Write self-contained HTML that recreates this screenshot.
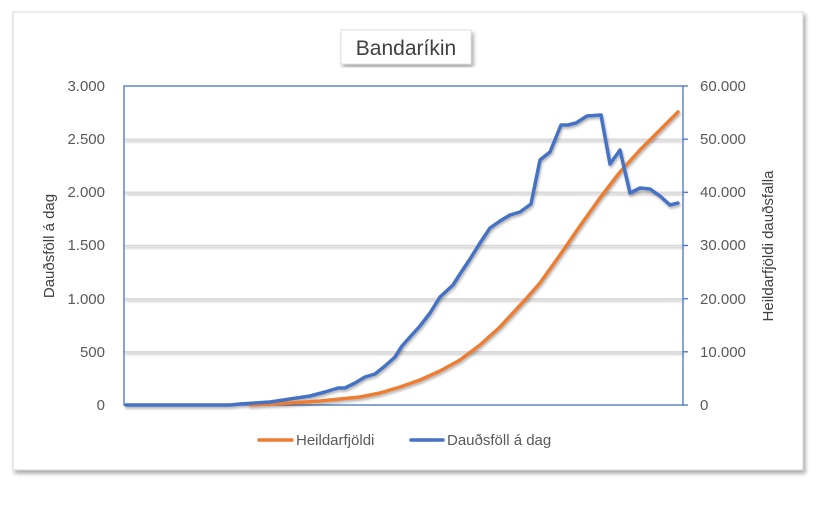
<!DOCTYPE html>
<html><head><meta charset="utf-8"><style>
body{margin:0;background:#fff;width:840px;height:502px;overflow:hidden;font-family:"Liberation Sans",sans-serif}
</style></head><body>
<svg width="840" height="502" xmlns="http://www.w3.org/2000/svg" font-family="Liberation Sans, sans-serif">
<defs>
<filter id="sh" x="-5%" y="-5%" width="110%" height="115%"><feDropShadow dx="2" dy="3" stdDeviation="2" flood-color="#000" flood-opacity="0.35"/></filter>
<filter id="ls" x="-5%" y="-20%" width="110%" height="200%"><feDropShadow dx="1" dy="2" stdDeviation="1.2" flood-color="#000" flood-opacity="0.3"/></filter>
</defs>
<rect x="13" y="12" width="790" height="458" fill="#fff" stroke="#d9d9d9" filter="url(#sh)"/>
<rect x="341" y="30" width="130" height="34" fill="#fff" stroke="#e0e0e0" filter="url(#sh)"/>
<text x="406" y="55" font-size="21" fill="#404040" text-anchor="middle">Bandaríkin</text>
<g stroke="#d9d9d9" stroke-width="1.5" filter="url(#ls)">
<line x1="124" y1="139.2" x2="683" y2="139.2"/>
<line x1="124" y1="192.3" x2="683" y2="192.3"/>
<line x1="124" y1="245.5" x2="683" y2="245.5"/>
<line x1="124" y1="298.7" x2="683" y2="298.7"/>
<line x1="124" y1="351.8" x2="683" y2="351.8"/>
</g>
<rect x="124" y="86" width="559" height="319" fill="none" stroke="#4472c4" stroke-width="1.3"/>
<g stroke="#4472c4" stroke-width="1.3">
<line x1="683" y1="139.2" x2="688" y2="139.2"/><line x1="683" y1="192.3" x2="688" y2="192.3"/>
<line x1="683" y1="245.5" x2="688" y2="245.5"/><line x1="683" y1="298.7" x2="688" y2="298.7"/>
<line x1="683" y1="351.8" x2="688" y2="351.8"/><line x1="683" y1="86" x2="688" y2="86"/><line x1="683" y1="405" x2="688" y2="405"/>
</g>
<g font-size="15" fill="#595959" text-anchor="end">
<text x="105" y="91">3.000</text><text x="105" y="144">2.500</text><text x="105" y="197">2.000</text>
<text x="105" y="250">1.500</text><text x="105" y="304">1.000</text><text x="105" y="357">500</text><text x="105" y="410">0</text>
</g>
<g font-size="15" fill="#595959">
<text x="700" y="91">60.000</text><text x="700" y="144">50.000</text><text x="700" y="197">40.000</text>
<text x="700" y="250">30.000</text><text x="700" y="304">20.000</text><text x="700" y="357">10.000</text><text x="700" y="410">0</text>
</g>
<text transform="translate(54,246) rotate(-90)" font-size="15" fill="#404040" text-anchor="middle">Dauðsföll á dag</text>
<text transform="translate(773,246) rotate(-90)" font-size="15" fill="#404040" text-anchor="middle">Heildarfjöldi dauðsfalla</text>
<g fill="none" stroke-width="3.5" stroke-linejoin="round" stroke-linecap="round" filter="url(#ls)">
<polyline stroke="#ed7d31" points="250,405 290,403 320,401 340,399 360,397 380,393 400,387 420,380 440,371 460,360 480,345 500,327 525,300 540,283 560,255 580,226 600,198 620,172 640,150 660,130 678,112"/>
<polyline stroke="#4472c4" points="126,405 230,405 240,404 270,402 290,399 310,396 325,392 338,388 345,388 355,383 365,377 375,374 385,366 395,357 402,346 410,337 420,326 430,313 440,297 453,285 460,274 470,259 480,243 490,228 500,221 510,215 520,212 531,204 540,160 550,152 561,125 568,125 576,123 587,116 601,115 610,164 620,150 630,193 640,188 650,189 660,196 670,205 678,203"/>
</g>
<line x1="259" y1="440" x2="292" y2="440" stroke="#ed7d31" stroke-width="3.5" stroke-linecap="round"/>
<text x="296" y="445" font-size="15" fill="#595959">Heildarfjöldi</text>
<line x1="411" y1="440" x2="443" y2="440" stroke="#4472c4" stroke-width="3.5" stroke-linecap="round"/>
<text x="447" y="445" font-size="15" fill="#595959">Dauðsföll á dag</text>
</svg>
</body></html>
